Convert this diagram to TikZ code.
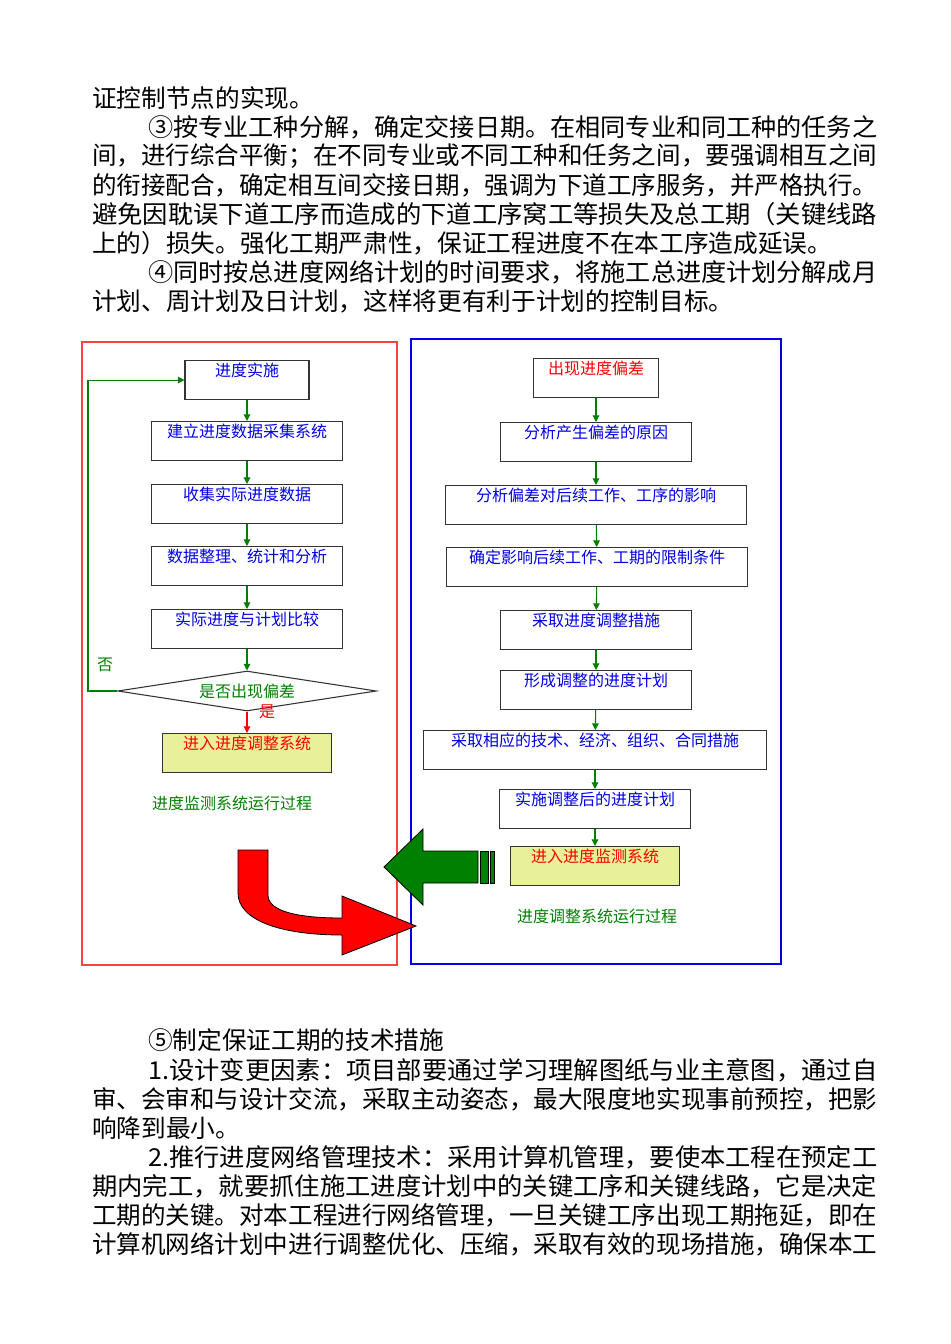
\documentclass[tikz,border=0pt]{standalone}
\usepackage{fontspec}
\setmainfont{Noto Sans CJK SC}
\usetikzlibrary{shapes.geometric,arrows.meta}
\definecolor{gr}{RGB}{0,128,0}
\definecolor{bl}{RGB}{0,0,230}
\definecolor{yl}{RGB}{232,240,154}
\newcommand\fl[1]{\resizebox{588.75pt}{\height}{#1}}
\begin{document}
\begin{tikzpicture}[x=0.75pt,y=-0.75pt,
  body/.style={anchor=west,inner sep=0pt,font=\fontsize{18.5}{20}\selectfont},
  bx/.style={draw=black!80,line width=0.8pt,anchor=north,minimum height=29.25pt,text=bl,font=\fontsize{12}{13}\selectfont,inner sep=0pt,text depth=15pt},
  ybx/.style={bx,fill=yl,text=red},
  ga/.style={-{Triangle[length=5pt,width=5pt]},draw=gr,line width=0.8pt},
  lbl/.style={font=\fontsize{12}{13}\selectfont,inner sep=0pt}]
\useasboundingbox (0,0) rectangle (950,1344);
\fill[white] (0,0) rectangle (950,1344);
% body text
\node[body] (t1) at (92,98) {证控制节点的实现。};
\node[body] (t2) at (148,127) {\resizebox{546.75pt}{\height}{③按专业工种分解，确定交接日期。在相同专业和同工种的任务之}};
\node[body] (t3) at (92,156) {\fl{间，进行综合平衡；在不同专业或不同工种和任务之间，要强调相互之间}};
\node[body] (t4) at (92,185) {\fl{的衔接配合，确定相互间交接日期，强调为下道工序服务，并严格执行。}};
\node[body] (t5) at (92,214) {\fl{避免因耽误下道工序而造成的下道工序窝工等损失及总工期（关键线路}};
\node[body] (t6) at (92,243) {上的）损失。强化工期严肃性，保证工程进度不在本工序造成延误。};
\node[body] (t7) at (148,272) {\resizebox{546.75pt}{\height}{④同时按总进度网络计划的时间要求，将施工总进度计划分解成月}};
\node[body] (t8) at (92,301) {计划、周计划及日计划，这样将更有利于计划的控制目标。};
\node[body] (t9) at (148,1040) {⑤制定保证工期的技术措施};
\node[body] (t10) at (148,1070) {\resizebox{546.75pt}{\height}{1.设计变更因素：项目部要通过学习理解图纸与业主意图，通过自}};
\node[body] (t11) at (92,1099) {\fl{审、会审和与设计交流，采取主动姿态，最大限度地实现事前预控，把影}};
\node[body] (t12) at (92,1128) {响降到最小。};
\node[body] (t13) at (148,1157) {\resizebox{546.75pt}{\height}{2.推行进度网络管理技术：采用计算机管理，要使本工程在预定工}};
\node[body] (t14) at (92,1186) {\fl{期内完工，就要抓住施工进度计划中的关键工序和关键线路，它是决定}};
\node[body] (t15) at (92,1215) {\fl{工期的关键。对本工程进行网络管理，一旦关键工序出现工期拖延，即在}};
\node[body] (t16) at (92,1244) {\fl{计算机网络计划中进行调整优化、压缩，采取有效的现场措施，确保本工}};
% frames
\draw[red!75,line width=0.9pt] (82,342) rectangle (397,965);
\draw[bl,line width=0.9pt] (411,339) rectangle (781,964);
% left column
\node[bx,minimum width=93pt] (a1) at (247,360) {进度实施};
\node[bx,minimum width=143pt] (a2) at (247,421) {建立进度数据采集系统};
\node[bx,minimum width=143pt] (a3) at (247,484) {收集实际进度数据};
\node[bx,minimum width=143pt] (a4) at (247,546) {数据整理、统计和分析};
\node[bx,minimum width=143pt] (a5) at (247,609) {实际进度与计划比较};
\node[diamond,draw=black!80,line width=0.8pt,aspect=6.5,minimum width=194pt,minimum height=30pt,inner sep=0pt,text=gr,font=\fontsize{12}{13}\selectfont] (d) at (247,691) {是否出现偏差};
\node[ybx,minimum width=127pt] (a6) at (247,733) {进入进度调整系统};
\node[lbl,text=gr] (c1) at (232,803) {进度监测系统运行过程};
\node[lbl,text=gr] (no) at (105,665) {否};
\node[lbl,text=red] (yes) at (267,712) {是};
\draw[ga] (a1) -- (a2);
\draw[ga] (a2) -- (a3);
\draw[ga] (a3) -- (a4);
\draw[ga] (a4) -- (a5);
\draw[ga] (a5) -- (d);
\draw[ga,draw=red] (d) -- (a6);
\draw[ga] (d.west) -- (88,691) |- (a1.west);
% right column
\node[bx,minimum width=94pt,text=red] (b1) at (596,358) {出现进度偏差};
\node[bx,minimum width=143pt] (b2) at (596,422) {分析产生偏差的原因};
\node[bx,minimum width=226pt] (b3) at (596,485) {分析偏差对后续工作、工序的影响};
\node[bx,minimum width=226pt] (b4) at (597,547) {确定影响后续工作、工期的限制条件};
\node[bx,minimum width=143pt] (b5) at (596,610) {采取进度调整措施};
\node[bx,minimum width=143pt] (b6) at (596,670) {形成调整的进度计划};
\node[bx,minimum width=257pt] (b7) at (595,730) {采取相应的技术、经济、组织、合同措施};
\node[bx,minimum width=143pt] (b8) at (595,789) {实施调整后的进度计划};
\node[ybx,minimum width=127pt] (b9) at (595,846) {进入进度监测系统};
\node[lbl,text=gr] (c2) at (597,916) {进度调整系统运行过程};
\draw[ga] (b1) -- (b2);
\draw[ga] (b2) -- (b3);
\draw[ga] (b3) -- (b4);
\draw[ga] (b4) -- (b5);
\draw[ga] (b5) -- (b6);
\draw[ga] (b6) -- (b7);
\draw[ga] (b7) -- (b8);
\draw[ga] (b8) -- (b9);
% green block arrow
\filldraw[fill=gr,draw=black,line width=0.6pt] (384,867) -- (423,829) -- (423,851) -- (478,851) -- (478,883) -- (423,883) -- (423,905) -- cycle;
\filldraw[fill=gr,draw=black,line width=0.6pt] (480,851) rectangle (488,883);
\filldraw[fill=gr,draw=black,line width=0.6pt] (490,851) rectangle (494,883);
% red curved arrow
\filldraw[fill=red,draw=black,line width=0.6pt] (238,850) -- (268,850) -- (268,895) .. controls (268,912) and (300,918) .. (342,918) -- (342,896) -- (416,926) -- (342,955) -- (342,935) .. controls (280,935) and (238,920) .. (238,893) -- cycle;
\end{tikzpicture}
\end{document}
